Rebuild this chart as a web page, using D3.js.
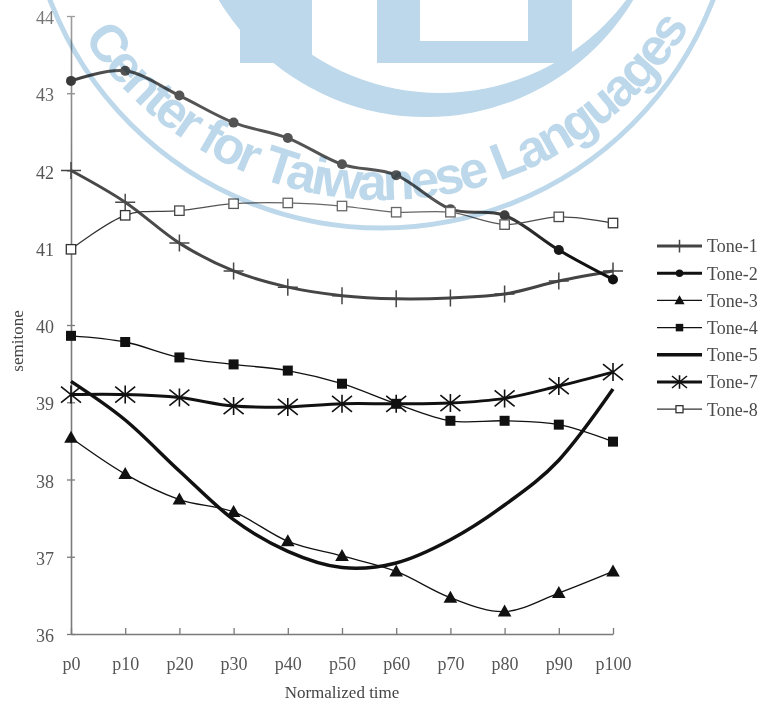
<!DOCTYPE html>
<html>
<head>
<meta charset="utf-8">
<script src="https://cdn.jsdelivr.net/npm/d3@7"></script>
<style>
  html, body { margin: 0; padding: 0; background: #fff; }
  svg { display: block; }
</style>
</head>
<body>
<svg id="chart" width="763" height="704"></svg>
<script>
// ---- data ----
const categories = ["p0", "p10", "p20", "p30", "p40", "p50", "p60", "p70", "p80", "p90", "p100"];
const yTicks = [36, 37, 38, 39, 40, 41, 42, 43, 44];
const seriesNames = ["Tone-1", "Tone-2", "Tone-3", "Tone-4", "Tone-5", "Tone-7", "Tone-8"];

const tone1 = [42.00, 41.59, 41.06, 40.70, 40.49, 40.38, 40.34, 40.35, 40.40, 40.57, 40.70];
const tone2 = [43.16, 43.29, 42.97, 42.62, 42.42, 42.08, 41.94, 41.50, 41.42, 40.97, 40.59];
const tone3 = [38.54, 38.07, 37.74, 37.58, 37.20, 37.01, 36.81, 36.47, 36.29, 36.53, 36.81];
const tone4 = [39.86, 39.78, 39.58, 39.49, 39.41, 39.24, 38.98, 38.76, 38.76, 38.71, 38.49];
const tone5 = [39.27, 38.77, 38.11, 37.48, 37.07, 36.86, 36.92, 37.22, 37.67, 38.25, 39.17];
const tone7 = [39.10, 39.10, 39.06, 38.95, 38.94, 38.98, 38.98, 38.99, 39.05, 39.21, 39.39];
const tone8 = [40.98, 41.42, 41.48, 41.57, 41.58, 41.54, 41.46, 41.46, 41.30, 41.40, 41.32];

const xTitle = "Normalized time";
const yTitle = "semitone";
const watermarkText = "Center for Taiwanese Languages";

// ---- styles per series ----
const styles = {
  "Tone-1": { color: "#444", width: 3,   marker: "plus" },
  "Tone-2": { color: "#111", width: 3,   marker: "circle" },
  "Tone-3": { color: "#111", width: 1.3, marker: "triangle" },
  "Tone-4": { color: "#111", width: 1.3, marker: "square" },
  "Tone-5": { color: "#111", width: 3.5, marker: "none" },
  "Tone-7": { color: "#111", width: 3,   marker: "star" },
  "Tone-8": { color: "#333", width: 1.3, marker: "openSquare" }
};
const valuesByName = {
  "Tone-1": tone1, "Tone-2": tone2, "Tone-3": tone3, "Tone-4": tone4,
  "Tone-5": tone5, "Tone-7": tone7, "Tone-8": tone8
};

const svg = d3.select("#chart");
const serif = "'Liberation Serif', 'Times New Roman', serif";

const x = d3.scalePoint().domain(categories).range([71, 613]);
const y = d3.scaleLinear().domain([36, 44]).range([634, 16]);

// ---- axes ----
const yAxis = svg.append("g")
  .attr("transform", `translate(${x(categories[0])},0)`)
  .call(d3.axisLeft(y).tickValues(yTicks).tickFormat(d3.format("d"))
    .tickSizeInner(4).tickSizeOuter(0).tickPadding(13));
yAxis.selectAll(".tick line").attr("x1", 4);

const xAxis = svg.append("g")
  .attr("transform", `translate(0,${y(36)})`)
  .call(d3.axisBottom(x).tickSizeInner(-6).tickSizeOuter(0).tickPadding(23));

[yAxis, xAxis].forEach(g => {
  g.select(".domain").attr("stroke", "#7a7a7a").attr("stroke-width", 1.6);
  g.selectAll(".tick line").attr("stroke", "#7a7a7a").attr("stroke-width", 1.3);
  g.selectAll(".tick text").attr("fill", "#555").style("font-family", serif).style("font-size", "18px");
});
yAxis.selectAll(".tick text").attr("dy", "0.42em");

svg.append("text")
  .attr("transform", `translate(23,${(y(36) + y(44)) / 2 + 16}) rotate(-90)`)
  .attr("text-anchor", "middle")
  .attr("fill", "#444")
  .style("font-family", serif).style("font-size", "17px")
  .text(yTitle);

svg.append("text")
  .attr("x", 342).attr("y", 698)
  .attr("text-anchor", "middle")
  .attr("fill", "#444")
  .style("font-family", serif).style("font-size", "17px")
  .text(xTitle);

// ---- marker drawing ----
function drawMarker(g, type, color, s) {
  switch (type) {
    case "plus":
      g.append("path").attr("d", `M${-10 * s},0H${10 * s}M0,${-8.5 * s}V${8.5 * s}`)
        .attr("stroke", color).attr("stroke-width", 1.5).attr("fill", "none");
      break;
    case "circle":
      g.append("circle").attr("r", 5 * s).attr("fill", color);
      break;
    case "triangle":
      g.append("path").attr("d", `M0,${-7 * s}L${6.8 * s},${5 * s}L${-6.8 * s},${5 * s}Z`).attr("fill", color);
      break;
    case "square":
      g.append("rect").attr("x", -5 * s).attr("y", -5 * s).attr("width", 10 * s).attr("height", 10 * s).attr("fill", color);
      break;
    case "openSquare":
      g.append("rect").attr("x", -4.7 * s).attr("y", -4.7 * s).attr("width", 9.4 * s).attr("height", 9.4 * s)
        .attr("fill", "#fff").attr("stroke", color).attr("stroke-width", 1.3);
      break;
    case "star":
      g.append("path")
        .attr("d", `M0,${-9 * s}V${9 * s}M${-10 * s},${-8 * s}L${10 * s},${8 * s}M${-10 * s},${8 * s}L${10 * s},${-8 * s}`)
        .attr("stroke", color).attr("stroke-width", 1.6).attr("fill", "none");
      break;
  }
}

// ---- series ----
const line = d3.line()
  .x((d, i) => x(categories[i]))
  .y(d => y(d))
  .curve(d3.curveCardinal.tension(0));

const plot = svg.append("g");
seriesNames.forEach(name => {
  const st = styles[name];
  const vals = valuesByName[name];
  const g = plot.append("g");
  g.append("path").datum(vals)
    .attr("d", line)
    .attr("fill", "none")
    .attr("stroke", st.color)
    .attr("stroke-width", st.width)
    .attr("stroke-linejoin", "round");
  if (st.marker !== "none") {
    vals.forEach((v, i) => {
      const m = g.append("g").attr("transform", `translate(${x(categories[i])},${y(v)})`);
      drawMarker(m, st.marker, st.color, 1);
    });
  }
});

// ---- legend ----
const legend = svg.append("g").attr("transform", "translate(657,246)");
seriesNames.forEach((name, i) => {
  const st = styles[name];
  const row = legend.append("g").attr("transform", `translate(0,${i * 27.2})`);
  row.append("line").attr("x1", 0).attr("x2", 45).attr("y1", 0).attr("y2", 0)
    .attr("stroke", st.color).attr("stroke-width", st.width);
  const m = row.append("g").attr("transform", "translate(22.5,0)");
  drawMarker(m, st.marker, st.color, 0.75);
  row.append("text").attr("x", 50).attr("y", 0).attr("dy", "0.35em")
    .attr("fill", "#4a4a4a")
    .style("font-family", serif).style("font-size", "18px")
    .text(name);
});

// ---- watermark: faded haze, logo shapes and arched caption ----
const defs = svg.append("defs");
const haze = defs.append("radialGradient").attr("id", "haze")
  .attr("gradientUnits", "userSpaceOnUse")
  .attr("cx", 381).attr("cy", -140).attr("r", 440);
haze.append("stop").attr("offset", "0.78").attr("stop-color", "#fff").attr("stop-opacity", 0.28);
haze.append("stop").attr("offset", "1").attr("stop-color", "#fff").attr("stop-opacity", 0);
svg.append("rect").attr("width", 763).attr("height", 704).attr("fill", "url(#haze)");

const wmColor = "#bcd8ea";
const wm = svg.append("g").style("mix-blend-mode", "multiply").attr("fill", wmColor);

function circlePath(cx, cy, r) {
  return `M${cx - r},${cy}A${r},${r} 0 1 0 ${cx + r},${cy}A${r},${r} 0 1 0 ${cx - r},${cy}Z`;
}
// crescent
wm.append("path")
  .attr("d", circlePath(426, -125, 242) + circlePath(440, -140, 233))
  .attr("fill-rule", "evenodd");
// blocks
wm.append("rect").attr("x", 240).attr("y", 0).attr("width", 72).attr("height", 63);
wm.append("path")
  .attr("d", "M377,0H572V63H377Z M420,0H528V41H420Z")
  .attr("fill-rule", "evenodd");
// outer ring
wm.append("circle").attr("cx", 381.5).attr("cy", -127).attr("r", 355)
  .attr("fill", "none").attr("stroke", wmColor).attr("stroke-width", 5);

// arched caption
const acx = 383, acy = -158, ar = 358;
const a0 = 146.8 * Math.PI / 180, a1 = 31 * Math.PI / 180;
defs.append("path").attr("id", "wmArc")
  .attr("d", `M${acx + ar * Math.cos(a0)},${acy + ar * Math.sin(a0)}A${ar},${ar} 0 0 0 ${acx + ar * Math.cos(a1)},${acy + ar * Math.sin(a1)}`);
wm.append("text")
  .style("font-family", "'Liberation Sans', Arial, sans-serif")
  .style("font-size", "52px").style("font-weight", "bold")
  .append("textPath")
  .attr("href", "#wmArc")
  .attr("textLength", ar * (a0 - a1))
  .attr("lengthAdjust", "spacing")
  .text(watermarkText);
</script>
</body>
</html>
